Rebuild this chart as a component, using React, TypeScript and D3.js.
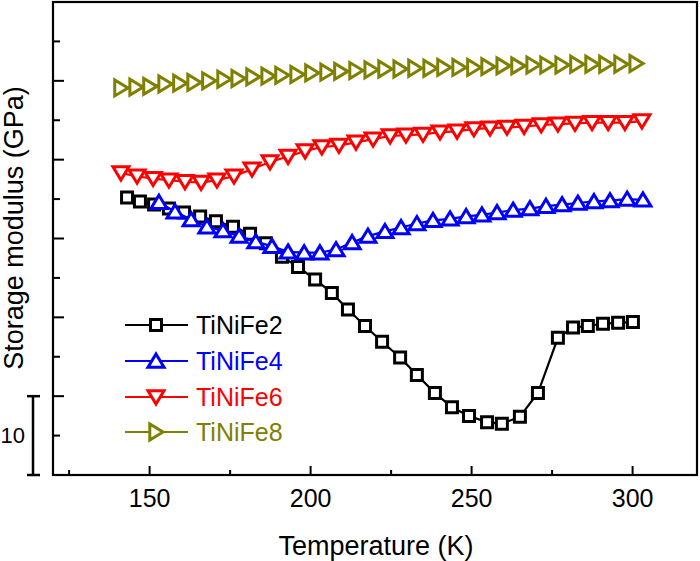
import React from "react";
import * as d3 from "d3";

// Temperature (K) and storage modulus (GPa, arbitrary offset) per series
const tFe2 = [143.0, 147.0, 151.4, 156.0, 160.7, 165.7, 170.6, 175.9, 181.2, 186.1, 191.1, 196.1, 201.4, 206.6, 211.6, 216.9, 222.2, 227.8, 233.0, 238.6, 243.9, 249.2, 254.8, 259.4, 265.0, 270.6, 276.8, 281.5, 286.1, 290.8, 295.5, 300.1];
const vFe2 = [35.2, 34.7, 34.3, 33.8, 33.3, 32.8, 32.2, 31.5, 30.6, 29.4, 27.7, 26.4, 24.8, 23.1, 21.0, 18.9, 16.9, 14.9, 12.7, 10.4, 8.6, 7.5, 6.7, 6.5, 7.4, 10.4, 17.4, 18.7, 18.9, 19.2, 19.3, 19.4];

const tFe4 = [152.9, 157.9, 162.9, 167.8, 172.8, 177.8, 183.0, 188.0, 193.0, 198.0, 202.9, 207.9, 212.9, 217.8, 223.1, 228.1, 233.0, 238.0, 243.3, 248.3, 253.2, 257.9, 262.9, 268.1, 273.1, 278.1, 283.0, 288.0, 293.0, 298.3, 303.2];
const vFe4 = [34.6, 33.4, 32.4, 31.5, 31.0, 30.3, 29.6, 29.0, 28.3, 28.2, 28.2, 28.6, 29.5, 30.3, 30.9, 31.4, 31.9, 32.3, 32.5, 32.8, 33.0, 33.3, 33.6, 33.8, 34.1, 34.3, 34.5, 34.7, 34.8, 35.0, 34.9];

const tFe6 = [141.1, 146.1, 151.1, 156.0, 161.0, 166.0, 170.9, 176.2, 181.8, 187.4, 193.0, 198.3, 203.5, 208.8, 214.1, 219.4, 224.7, 229.6, 234.9, 240.2, 245.5, 250.7, 255.7, 261.0, 266.3, 271.6, 276.8, 282.1, 287.4, 292.4, 297.6, 302.9];
const vFe6 = [38.3, 37.9, 37.6, 37.4, 37.2, 37.1, 37.4, 37.9, 38.8, 39.7, 40.4, 41.1, 41.6, 41.8, 42.2, 42.6, 43.0, 43.1, 43.2, 43.5, 43.6, 43.9, 44.0, 44.1, 44.2, 44.4, 44.5, 44.6, 44.7, 44.7, 44.7, 44.9];

const tFe8 = [141.1, 145.8, 150.1, 154.8, 159.4, 163.8, 168.4, 173.1, 177.5, 182.1, 186.8, 191.1, 195.8, 200.4, 205.1, 209.4, 214.1, 218.8, 223.1, 227.8, 232.4, 237.1, 241.4, 246.1, 250.7, 255.1, 259.8, 264.4, 269.1, 273.4, 278.1, 282.7, 287.4, 291.7, 296.4, 301.1];
const vFe8 = [49.1, 49.2, 49.3, 49.6, 49.7, 49.8, 50.0, 50.2, 50.3, 50.5, 50.6, 50.7, 50.8, 51.0, 51.1, 51.2, 51.3, 51.4, 51.5, 51.5, 51.6, 51.6, 51.7, 51.7, 51.7, 51.8, 51.9, 51.9, 52.0, 52.0, 52.0, 52.1, 52.1, 52.1, 52.1, 52.2];

const seriesNames = ["TiNiFe2", "TiNiFe4", "TiNiFe6", "TiNiFe8"];
const seriesColors = ["#000000", "#0000ff", "#ff0000", "#808000"];
const seriesMarkers = ["square", "up", "down", "right"];
const xTickLabels = [150, 200, 250, 300];
const xMinorTicks = [125, 175, 225, 275];
const yMajorTicks = [10, 20, 30, 40, 50];
const yMinorTicks = [5, 15, 25, 35, 45, 55];
const scaleBarValue = 10;

const FONT = "'Liberation Sans', Arial, sans-serif";

function markerPath(kind: string): string {
  if (kind === "square") return "M-5.5,-5.5H5.5V5.5H-5.5Z";
  if (kind === "up") return "M0,-7L8,6.2L-8,6.2Z";
  if (kind === "down") return "M0,7L8,-6.2L-8,-6.2Z";
  return "M7,0L-6.2,8L-6.2,-8Z";
}

export default function App() {
  const W = 700, H = 561;
  const x = d3.scaleLinear().domain([120, 320]).range([53, 697]);
  const y = d3.scaleLinear().domain([0, 60]).range([475, 2]);
  const data = [
    { t: tFe2, v: vFe2 },
    { t: tFe4, v: vFe4 },
    { t: tFe6, v: vFe6 },
    { t: tFe8, v: vFe8 },
  ];
  const line = d3.line<[number, number]>().x((d) => x(d[0])).y((d) => y(d[1]));
  const drawOrder = [3, 2, 0, 1];
  const legendY = [325, 361, 397, 432];

  return (
    <svg width={W} height={H} style={{ position: "absolute", left: 0, top: 0, background: "#fff" }} fontFamily={FONT}>
      <rect x={0} y={0} width={W} height={H} fill="#fff" />
      {drawOrder.map((i) => {
        const pts = data[i].t.map((t, k) => [t, data[i].v[k]] as [number, number]);
        return (
          <g key={i}>
            <path d={line(pts) || ""} fill="none" stroke={seriesColors[i]} strokeWidth={2.2} />
            {pts.map((p, k) => (
              <path key={k} d={markerPath(seriesMarkers[i])} transform={`translate(${x(p[0])},${y(p[1])})`}
                fill="#fff" stroke={seriesColors[i]} strokeWidth={3} strokeLinejoin="miter" />
            ))}
          </g>
        );
      })}
      {/* frame */}
      <rect x={53} y={2} width={644} height={473} fill="none" stroke="#000" strokeWidth={2.2} />
      {/* x ticks */}
      {xTickLabels.map((t) => (
        <g key={t}>
          <line x1={x(t)} x2={x(t)} y1={475} y2={466} stroke="#000" strokeWidth={2} />
          <text x={x(t)} y={498} textAnchor="middle" dominantBaseline="central" fontSize={25}>{t}</text>
        </g>
      ))}
      {xMinorTicks.map((t) => (
        <line key={t} x1={x(t)} x2={x(t)} y1={475} y2={470} stroke="#000" strokeWidth={2} />
      ))}
      {yMajorTicks.map((v) => (
        <line key={v} x1={53} x2={64} y1={y(v)} y2={y(v)} stroke="#000" strokeWidth={2} />
      ))}
      {yMinorTicks.map((v) => (
        <line key={v} x1={53} x2={60} y1={y(v)} y2={y(v)} stroke="#000" strokeWidth={2} />
      ))}
      {/* scale bar */}
      <g stroke="#000" strokeWidth={2.5}>
        <line x1={33} x2={33} y1={y(scaleBarValue)} y2={y(0)} />
        <line x1={27} x2={40} y1={y(scaleBarValue)} y2={y(scaleBarValue)} />
        <line x1={27} x2={40} y1={y(0)} y2={y(0)} />
      </g>
      <text x={25} y={y(scaleBarValue / 2)} textAnchor="end" dominantBaseline="central" fontSize={22}>{scaleBarValue}</text>
      {/* axis titles */}
      <text x={376} y={546} textAnchor="middle" dominantBaseline="central" fontSize={27}>Temperature (K)</text>
      <text transform={`translate(14,228) rotate(-90)`} textAnchor="middle" dominantBaseline="central" fontSize={27}>Storage modulus (GPa)</text>
      {/* legend */}
      {seriesNames.map((n, i) => (
        <g key={n}>
          <line x1={125} x2={188} y1={legendY[i]} y2={legendY[i]} stroke={seriesColors[i]} strokeWidth={2.2} />
          <path d={markerPath(seriesMarkers[i])} transform={`translate(156,${legendY[i]})`} fill="#fff" stroke={seriesColors[i]} strokeWidth={3} />
          <text x={196} y={legendY[i]} dominantBaseline="central" fontSize={25} fill={seriesColors[i]}>{n}</text>
        </g>
      ))}
    </svg>
  );
}
